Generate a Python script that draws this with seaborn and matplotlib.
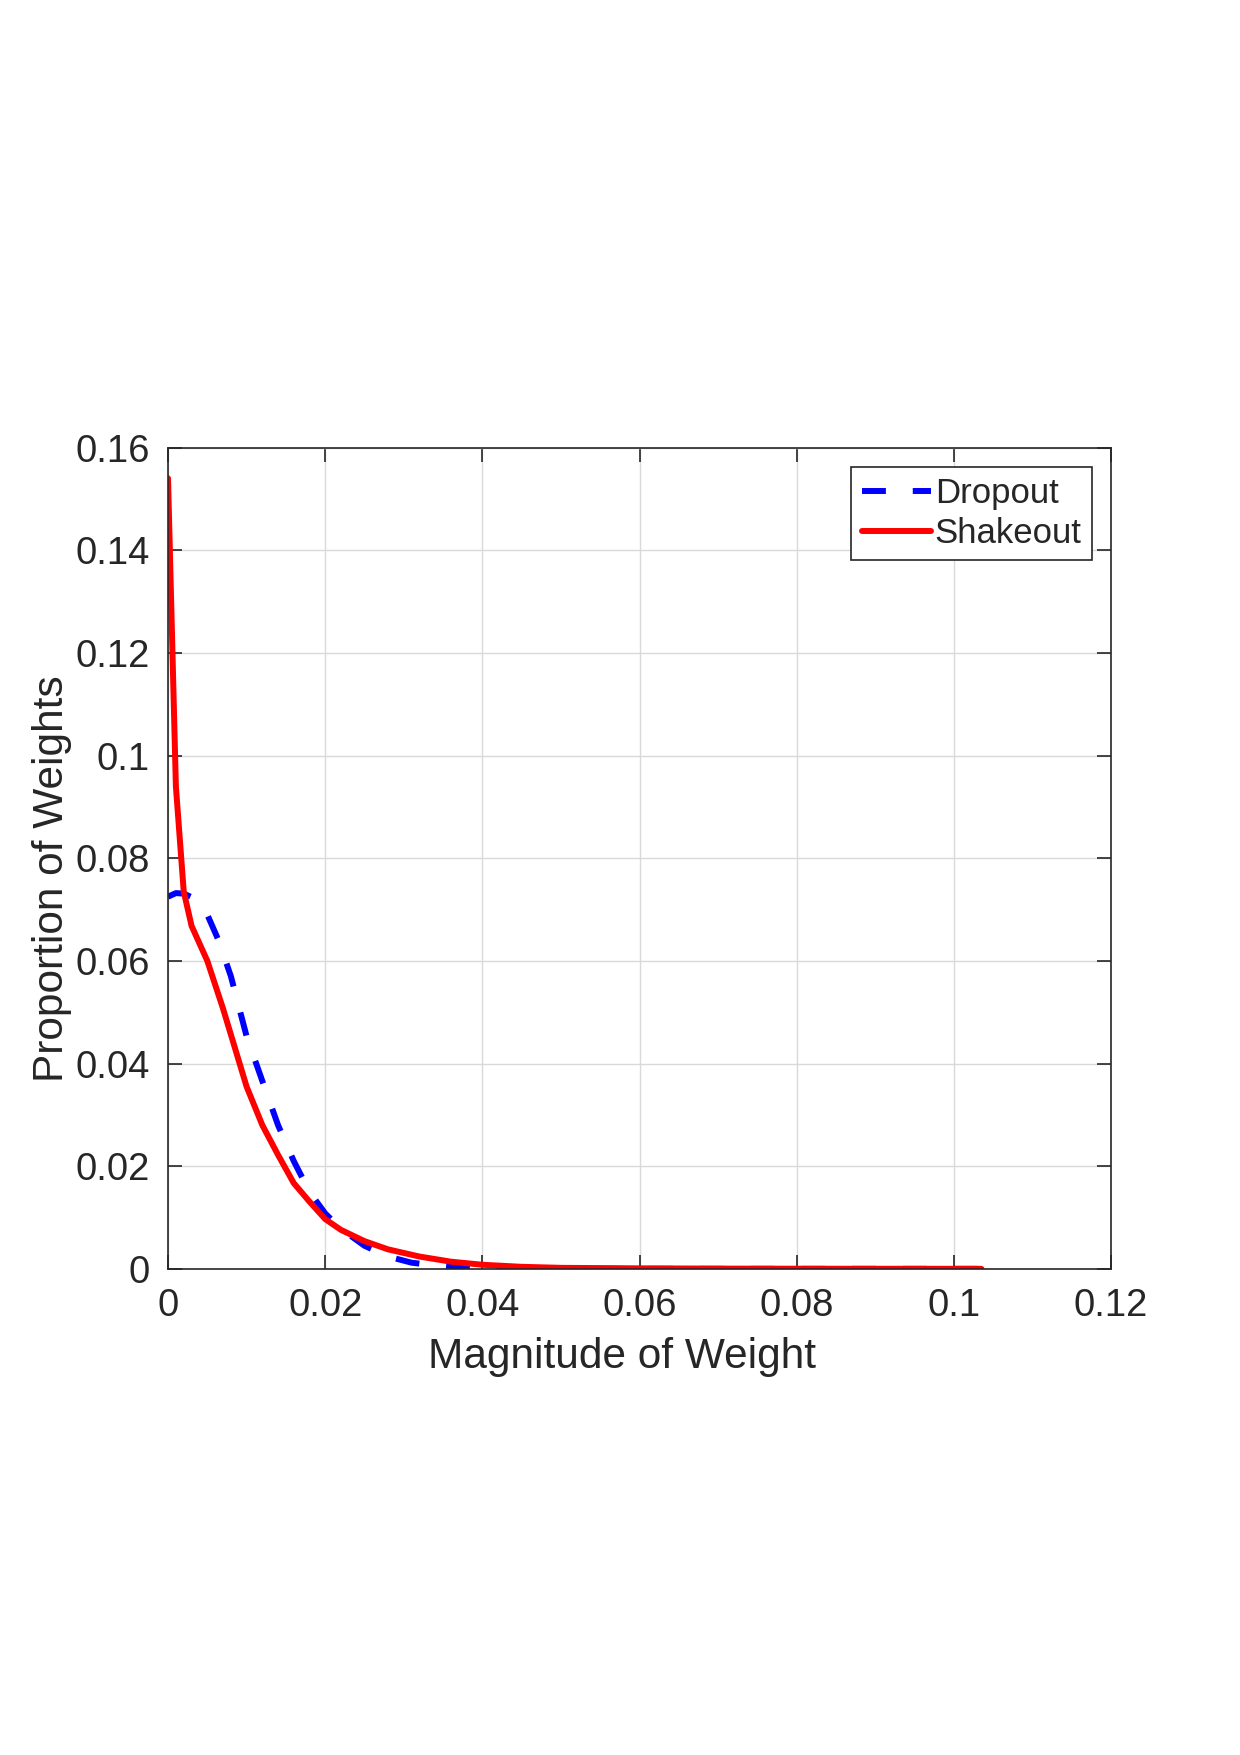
import numpy as np
import pandas as pd
import matplotlib
matplotlib.use("Agg")
import matplotlib.pyplot as plt
import seaborn as sns

# Data
dropout_x = [0.0, 0.001, 0.002, 0.003, 0.004, 0.005, 0.0064, 0.008, 0.010, 0.012, 0.014,
             0.016, 0.018, 0.020, 0.022, 0.025, 0.028, 0.031, 0.035, 0.038, 0.045, 0.060,
             0.080, 0.1035]
dropout_y = [0.0725, 0.0732, 0.0731, 0.0724, 0.0712, 0.0690, 0.0641, 0.0570, 0.0453, 0.0366,
             0.0280, 0.0210, 0.0150, 0.0108, 0.0078, 0.0045, 0.0024, 0.0012, 0.0005, 0.0001,
             0.0, 0.0, 0.0, 0.0]

shakeout_x = [0.0, 0.001, 0.002, 0.003, 0.005, 0.007, 0.010, 0.012, 0.014, 0.016, 0.018,
              0.020, 0.022, 0.025, 0.028, 0.032, 0.036, 0.040, 0.045, 0.050, 0.060, 0.070,
              0.080, 0.090, 0.1035]
shakeout_y = [0.154, 0.094, 0.0735, 0.0668, 0.0600, 0.0507, 0.0355, 0.0280, 0.0222, 0.0167,
              0.0131, 0.0097, 0.0076, 0.0054, 0.0038, 0.0024, 0.0014, 0.0008, 0.0004, 0.0002,
              0.0001, 0.00005, 0.00003, 0.00002, 0.00001]

x_ticks = [0, 0.02, 0.04, 0.06, 0.08, 0.1, 0.12]
x_tick_labels = ["0", "0.02", "0.04", "0.06", "0.08", "0.1", "0.12"]
y_ticks = [0, 0.02, 0.04, 0.06, 0.08, 0.1, 0.12, 0.14, 0.16]
y_tick_labels = ["0", "0.02", "0.04", "0.06", "0.08", "0.1", "0.12", "0.14", "0.16"]

sns.set_theme(style="ticks")
plt.rcParams['font.family'] = ['Liberation Sans', 'DejaVu Sans']

fig = plt.figure(figsize=(12.4, 17.55), dpi=100)
ax = fig.add_axes([0.1355, 0.277, 0.7605, 0.468])

df_d = pd.DataFrame({"x": dropout_x, "y": dropout_y})
df_s = pd.DataFrame({"x": shakeout_x, "y": shakeout_y})

sns.lineplot(data=df_d, x="x", y="y", ax=ax, color=(0, 0, 1), linewidth=4.3,
             label="Dropout", dashes=False)
sns.lineplot(data=df_s, x="x", y="y", ax=ax, color=(1, 0, 0), linewidth=4.3,
             label="Shakeout")
ax.lines[0].set_dashes((4.0, 4.5))
ax.lines[0].set_dash_capstyle('butt')

ax.set_xlim(0, 0.12)
ax.set_ylim(0, 0.16)
ax.set_xticks(x_ticks)
ax.set_xticklabels(x_tick_labels)
ax.set_yticks(y_ticks)
ax.set_yticklabels(y_tick_labels)

ax.grid(True, color="#d9d9d9", linewidth=1.0)
ax.set_axisbelow(True)
for s in ax.spines.values():
    s.set_visible(True)
    s.set_color("#262626")
    s.set_linewidth(1.2)
ax.tick_params(direction="in", length=10, width=1.2, top=True, right=True,
               labelsize=27.5, colors="#262626")
ax.tick_params(axis="x", pad=14)
ax.tick_params(axis="y", pad=13)
for lab in ax.get_xticklabels() + ax.get_yticklabels():
    lab.set_color("#262626")

ax.set_xlabel("Magnitude of Weight", fontsize=30.5, color="#262626", labelpad=8)
ax.set_ylabel("Proportion of Weights", fontsize=30.5, color="#262626", labelpad=4)
ax.yaxis.set_label_coords(-0.102, 0.475)
ax.xaxis.set_label_coords(0.481, -0.083)

leg = ax.legend(loc="upper right", fontsize=25, frameon=True, fancybox=False,
                edgecolor="#262626", borderpad=0.3, handlelength=2.0,
                handletextpad=0.1, labelspacing=0.2, borderaxespad=0.55)
leg.get_frame().set_linewidth(1.2)
leg.get_frame().set_alpha(1)

fig.savefig("out.png", dpi=100, facecolor="white")
